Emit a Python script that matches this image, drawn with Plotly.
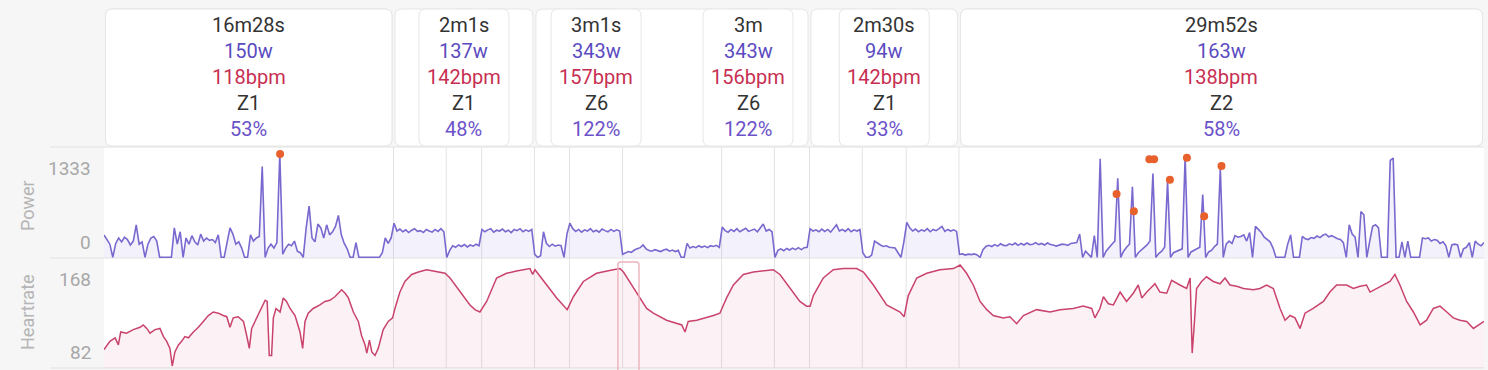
import plotly.graph_objects as go

# ---------------- data ----------------
lap_durations_s = [988, 180, 121, 180, 120, 181, 338, 180, 120, 180, 150, 180, 1792]
labelled_laps = [0, 2, 5, 7, 10, 12]
lap_watts = [150, 137, 343, 343, 94, 163]
lap_bpm = [118, 142, 157, 156, 142, 138]
lap_zone = ["Z1", "Z1", "Z6", "Z6", "Z1", "Z2"]
lap_pct = [53, 48, 122, 122, 33, 58]

power_step_s = 10
power_w = [
    # lap 1
    290, 220, 170, 0, 180, 250, 200, 260, 230, 160,
    210, 420, 170, 200, 0, 170, 250, 270, 210, 0,
    0, 0, 0, 0, 380, 170, 330, 0, 250, 170,
    280, 200, 160, 300, 210, 250, 220, 230, 190, 290,
    0, 0, 190, 380, 300, 170, 200, 120, 0, 0,
    290, 210, 250, 270, 1170, 0, 120, 170, 120, 190,
    1333, 40, 120, 170, 150, 210, 80, 60, 0, 380,
    660, 250, 200, 430, 380, 250, 420, 290, 330, 400,
    540, 290, 180, 110, 0, 0, 190, 0, 0, 0,
    0, 0, 0, 0, 0, 60, 250, 180, 250,
    # lap 2
    440, 340, 365, 330, 355, 320, 350, 370, 335, 345, 320, 360, 340, 325, 360, 335, 370, 330,
    # lap 3
    0, 90, 150, 130, 160, 140, 165, 135, 160, 145, 170, 150,
    # lap 4
    360, 330, 355, 370, 325, 350, 340, 365, 330, 350, 320, 360, 345, 370, 330, 355, 335, 360,
    # lap 5
    40, 0, 20, 330, 180, 140, 170, 145, 160, 150, 0, 300,
    # lap 6
    440, 370, 335, 360, 325, 355, 340, 370, 330, 350, 325, 365, 345, 330, 360, 335, 355, 340,
    # lap 7
    40, 60, 75, 65, 95, 110, 125, 160, 110, 90,
    80, 100, 90, 75, 95, 105, 80, 95, 75, 90,
    0, 0, 180, 120, 140, 125, 150, 130, 145, 125,
    150, 140, 155, 130,
    # lap 8
    390, 345, 325, 360, 335, 370, 330, 355, 375, 335, 350, 365, 330, 375, 430, 340, 360, 330,
    # lap 9
    0, 90, 110, 85, 115, 95, 120, 100, 125, 100, 125, 130,
    # lap 10
    370, 340, 355, 330, 365, 335, 360, 325, 370, 420, 340, 360, 335, 370, 330, 355, 340, 360,
    # lap 11
    60, 0, 0, 30, 210, 180, 160, 140, 150, 130, 125, 120, 60, 0, 200,
    # lap 12
    450, 380, 340, 365, 330, 355, 340, 370, 330, 360, 345, 370, 400, 335, 360, 340, 355, 335,
    # lap 13
    38, 45, 30, 42, 36, 45, 32, 0, 100, 140,
    155, 140, 165, 145, 175, 155, 150, 175, 160, 185,
    155, 180, 160, 185, 165, 170, 190, 165, 180, 160,
    185, 165, 160, 145, 160, 170, 165, 155, 180, 185,
    190, 300, 0, 80, 40, 0, 280, 0, 1270, 0,
    80, 130, 170, 210, 1020, 0, 80, 130, 170, 910,
    0, 60, 90, 120, 160, 210, 1080, 0, 50, 80,
    130, 980, 0, 60, 80, 100, 110, 1300, 0, 70,
    90, 110, 130, 810, 0, 70, 90, 140, 170, 1150,
    0, 170, 210, 180, 280, 260, 270, 290, 210, 320,
    0, 400, 360, 320, 260, 230, 200, 120, 0, 0,
    0, 0, 170, 290, 0, 0, 0, 270, 240, 230,
    255, 245, 275, 255, 285, 300, 265, 280, 255, 240,
    230, 190, 0, 420, 300, 260, 0, 590, 550, 0,
    210, 400, 420, 380, 0, 0, 0, 1250, 1280, 0,
    0, 200, 0, 210, 0, 0, 0, 0, 250, 240,
    250, 210, 230, 220, 180, 200, 150, 0, 160, 170,
    160, 0, 110, 130, 190, 0, 210, 170, 150, 190,
]

hr_t = [
    0, 20, 38, 49, 57, 77, 100, 123, 134, 146,
    157, 174, 191, 203, 214, 225, 233, 242, 254, 265,
    276, 288, 305, 322, 339, 356, 373, 390, 407, 419,
    430, 441, 458, 476, 487, 496, 504, 515, 532, 550,
    557, 564, 572, 578, 587, 601, 612, 623, 635, 652,
    669, 678, 686, 697, 714, 737, 754, 771, 788, 800,
    811, 823, 834, 851, 868, 879, 891, 897, 906, 914,
    925, 936, 953, 970, 985, 993, 1010, 1027, 1050, 1073,
    1101, 1124, 1147, 1164, 1181, 1215, 1249, 1266, 1283, 1306,
    1340, 1374, 1408, 1454, 1463, 1471, 1511, 1545, 1581, 1602,
    1636, 1681, 1738, 1761, 1773, 1807, 1829, 1852, 1875, 1920,
    1955, 1972, 1983, 1994, 2023, 2057, 2080, 2102, 2125, 2148,
    2182, 2216, 2250, 2284, 2307, 2341, 2375, 2398, 2410, 2421,
    2455, 2489, 2523, 2569, 2592, 2626, 2671, 2717, 2731, 2745,
    2774, 2808, 2853, 2899, 2922, 2944, 2967, 2990, 3013, 3035,
    3069, 3092, 3115, 3138, 3183, 3229, 3263, 3308, 3342, 3371,
    3382, 3399, 3411, 3428, 3445, 3468, 3490, 3513, 3530, 3542,
    3559, 3587, 3604, 3627, 3644, 3672, 3695, 3707, 3714, 3721,
    3729, 3746, 3763, 3786, 3809, 3826, 3843, 3866, 3889, 3923,
    3945, 3968, 3991, 4014, 4031, 4048, 4065, 4082, 4099, 4127,
    4162, 4184, 4207, 4241, 4264, 4287, 4309, 4321, 4344, 4366,
    4389, 4406, 4423, 4446, 4469, 4492, 4514, 4537, 4560, 4583,
    4605, 4628, 4651, 4674, 4691, 4710,
]
hr_bpm = [
    96, 103, 106, 100, 111, 110, 113, 115, 117, 114,
    110, 113, 114, 107, 103, 97, 82, 94, 100, 103,
    107, 106, 111, 115, 120, 125, 128, 127, 125, 124,
    115, 123, 124, 120, 108, 97, 114, 120, 128, 138,
    137, 91, 91, 123, 131, 128, 140, 137, 131, 125,
    111, 97, 120, 127, 131, 134, 137, 138, 141, 144,
    147, 144, 140, 128, 120, 108, 100, 93, 104, 94,
    91, 97, 113, 120, 123, 131, 145, 154, 160, 162,
    164, 163, 162, 161, 157, 145, 134, 130, 128, 137,
    157, 161, 163, 165, 160, 164, 151, 140, 130, 141,
    154, 161, 164, 165, 162, 148, 140, 131, 127, 121,
    118, 117, 111, 120, 121, 123, 125, 127, 140, 151,
    160, 162, 163, 164, 160, 148, 137, 133, 133, 142,
    157, 164, 165, 165, 162, 151, 134, 128, 124, 142,
    157, 161, 164, 165, 168, 161, 151, 137, 130, 125,
    123, 124, 118, 125, 130, 128, 130, 131, 133, 131,
    123, 131, 141, 135, 134, 145, 137, 144, 151, 140,
    145, 152, 145, 144, 155, 151, 148, 157, 93, 117,
    148, 154, 158, 154, 152, 157, 151, 150, 148, 147,
    148, 151, 148, 131, 121, 125, 123, 114, 127, 131,
    137, 145, 151, 151, 148, 150, 151, 145, 148, 151,
    154, 160, 151, 137, 128, 117, 121, 131, 133, 128,
    123, 121, 120, 114, 117, 120,
]

peak_t = [601, 3456, 3515, 3568, 3584, 3638, 3696, 3755, 3814]
peak_w = [1333, 817, 594, 1265, 1265, 1000, 1286, 530, 1179]

highlight_t = [1754, 1826]

# ---------------- styling / layout constants ----------------
W, H = 1488, 370
PL, PR = 104, 1484          # plot area left / right (px)
Y_TOP_BOX, Y_STRIP = 9, 147  # lap box top, strip bottom (px)
Y_MID, Y_BOT = 258, 368

BG = "#f6f6f6"
LINE_GRAY = "#e3e3e3"
POWER = "#7a68cf"
POWER_FILL = "rgba(122,104,207,0.09)"
HR = "#c9436c"
HR_FILL = "rgba(214,70,110,0.07)"
TXT_DARK = "#333333"
TXT_W = "#5a4bc0"
TXT_BPM = "#c72f52"
TXT_PCT = "#6b52c9"
LABEL_GRAY = "#a8a8a8"
FONT = "Roboto"


def py(px):
    return 1 - px / H


def fmt_dur(s):
    m, sec = divmod(s, 60)
    return f"{m}m{sec}s" if sec else f"{m}m"


total_s = sum(lap_durations_s)
s_per_px = total_s / (PR - PL)
lap_starts = [sum(lap_durations_s[:i]) for i in range(len(lap_durations_s))]
lap_ends = [a + d for a, d in zip(lap_starts, lap_durations_s)]
power_t = [i * power_step_s for i in range(len(power_w))]

fig = go.Figure()

fig.add_trace(go.Scatter(
    x=power_t, y=power_w, mode="lines", xaxis="x", yaxis="y2",
    line=dict(color=POWER, width=1.6), fill="tozeroy", fillcolor=POWER_FILL,
    hoverinfo="skip", showlegend=False))
fig.add_trace(go.Scatter(
    x=peak_t, y=peak_w, mode="markers", xaxis="x", yaxis="y2",
    marker=dict(color="#e8612c", size=8), cliponaxis=False,
    hoverinfo="skip", showlegend=False))
fig.add_trace(go.Scatter(
    x=hr_t, y=hr_bpm, mode="lines", xaxis="x", yaxis="y",
    line=dict(color=HR, width=1.5), fill="tozeroy", fillcolor=HR_FILL,
    hoverinfo="skip", showlegend=False))


def rrect(x0, x1, y0, y1, rx, ry):
    return (f"M{x0 + rx},{y1} L{x1 - rx},{y1} Q{x1},{y1} {x1},{y1 - ry} "
            f"L{x1},{y0 + ry} Q{x1},{y0} {x1 - rx},{y0} L{x0 + rx},{y0} "
            f"Q{x0},{y0} {x0},{y0 + ry} L{x0},{y1 - ry} Q{x0},{y1} {x0 + rx},{y1} Z")


shapes = []
inset = 1.5 * s_per_px
rx = 7 * s_per_px
ry = 7 / H
by0, by1 = py(Y_STRIP - 1), py(Y_TOP_BOX)
min_box = 90 * s_per_px

# plain lap boxes
for a, b in zip(lap_starts, lap_ends):
    shapes.append(dict(type="path", xref="x", yref="paper",
                       path=rrect(a + inset, b - inset, by0, by1, rx, ry),
                       fillcolor="white", line=dict(color="#e6e6e6", width=1), layer="above"))
# labelled boxes on top
for k in labelled_laps:
    a, b = lap_starts[k], lap_ends[k]
    w = max(b - a - 2 * inset, min_box)
    c = (a + b) / 2
    shapes.append(dict(type="path", xref="x", yref="paper",
                       path=rrect(c - w / 2, c + w / 2, by0, by1, rx, ry),
                       fillcolor="white", line=dict(color="#e6e6e6", width=1), layer="above"))

# lap boundary lines
for b in lap_ends[:-1]:
    shapes.append(dict(type="line", xref="x", yref="paper", x0=b, x1=b,
                       y0=py(Y_BOT), y1=py(Y_STRIP), line=dict(color=LINE_GRAY, width=1),
                       layer="below"))
# horizontal dividers
for yy in (Y_STRIP, Y_MID, Y_BOT):
    shapes.append(dict(type="line", xref="paper", yref="paper", x0=50 / W, x1=PR / W,
                       y0=py(yy), y1=py(yy), line=dict(color="#e2e2e2", width=1.2),
                       layer="below"))
# highlight window
shapes.append(dict(type="path", xref="x", yref="paper",
                   path=rrect(highlight_t[0], highlight_t[1], py(375), py(262), 3 * s_per_px, 3 / H),
                   line=dict(color="#ebb3bc", width=1.4), layer="above"))

annotations = []
line_y = [25, 51, 77, 103, 129]
for n, k in enumerate(labelled_laps):
    c = (lap_starts[k] + lap_ends[k]) / 2
    texts = [(fmt_dur(lap_durations_s[k]), TXT_DARK),
             (f"{lap_watts[n]}w", TXT_W),
             (f"{lap_bpm[n]}bpm", TXT_BPM),
             (lap_zone[n], TXT_DARK),
             (f"{lap_pct[n]}%", TXT_PCT)]
    for (t, col), yy in zip(texts, line_y):
        annotations.append(dict(x=c, y=py(yy), xref="x", yref="paper", text=t,
                                showarrow=False, xanchor="center", yanchor="middle",
                                font=dict(family=FONT, size=20, color=col)))

for txt, yy in (("Power", 206), ("Heartrate", 312)):
    annotations.append(dict(x=27 / W, y=py(yy), xref="paper", yref="paper", text=txt,
                            textangle=-90, showarrow=False, xanchor="center", yanchor="middle",
                            font=dict(family=FONT, size=18, color="#b5b5b5")))

for txt, yy in ((str(max(power_w)), 168), (str(min(power_w)), 243),
                (str(max(hr_bpm)), 279), (str(min(hr_bpm)), 352)):
    annotations.append(dict(x=93 / W, y=py(yy), xref="paper", yref="paper", text=txt,
                            showarrow=False, xanchor="right", yanchor="middle",
                            font=dict(family=FONT, size=19, color=LABEL_GRAY)))

hidden = dict(showgrid=False, zeroline=False, showticklabels=False, ticks="", showline=False)
fig.update_layout(
    width=W, height=H, margin=dict(l=0, r=0, t=0, b=0),
    paper_bgcolor=BG, plot_bgcolor="white",
    xaxis=dict(domain=[PL / W, PR / W], range=[0, total_s], anchor="y", **hidden),
    yaxis=dict(domain=[py(Y_BOT), py(Y_MID)], range=[80.3, 174], anchor="x", **hidden),
    yaxis2=dict(domain=[py(Y_MID), py(Y_STRIP)], range=[-8, 1423], anchor="x", **hidden),
    shapes=shapes, annotations=annotations, showlegend=False,
    font=dict(family=FONT),
)

fig.write_html("out.html", config={"displayModeBar": False},
               post_script="document.body.style.margin='0';document.body.style.padding='0';document.body.style.overflow='hidden';")
